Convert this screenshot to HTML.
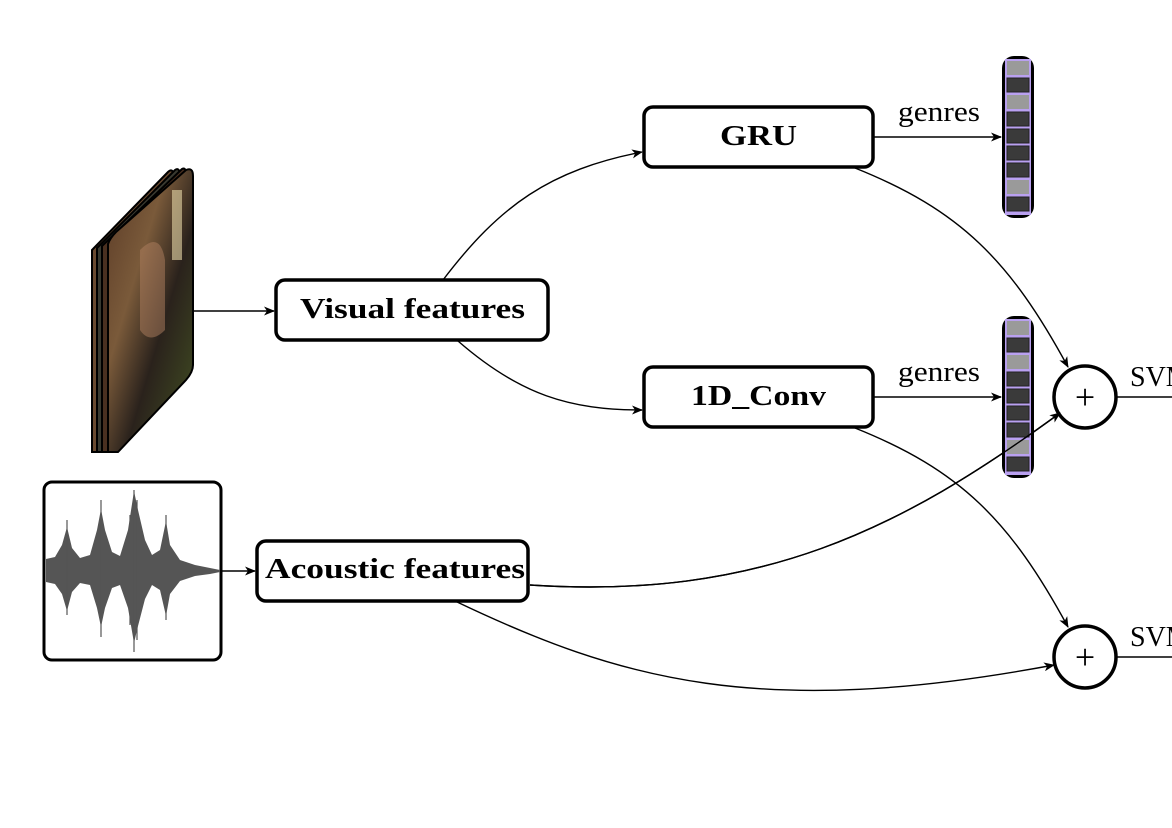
<!DOCTYPE html>
<html><head><meta charset="utf-8"><style>
html,body{margin:0;padding:0;background:#fff}
svg{display:block}
text{font-family:"Liberation Serif",serif}
</style></head><body>
<svg width="1172" height="828" viewBox="0 0 1172 828" xmlns="http://www.w3.org/2000/svg">
<defs>
<marker id="a" markerWidth="11" markerHeight="9" refX="10" refY="4.5" orient="auto" markerUnits="userSpaceOnUse">
<path d="M0,0 L11,4.5 L0,9 L3,4.5 Z" fill="#000"/></marker>
<linearGradient id="img" x1="0" y1="0" x2="1" y2="1">
<stop offset="0" stop-color="#5a3a26"/><stop offset="0.35" stop-color="#7a5a3a"/><stop offset="0.6" stop-color="#2a221c"/><stop offset="0.85" stop-color="#3a4020"/><stop offset="1" stop-color="#1a1410"/></linearGradient>
</defs>
<!-- frame stack -->
<g stroke="#000" stroke-width="2">
<path d="M92,250 L168,172 Q172,168 174,174 L174,372 L100,452 L92,452 Z" fill="#6a4a30"/>
<path d="M97,248 L175,170 Q179,167 180,174 L180,374 L104,452 L97,452 Z" fill="#3a3a30"/>
<path d="M102,246 L182,169 Q186,167 186,174 L186,376 L108,452 L102,452 Z" fill="#4a3020"/>
<path d="M108,244 Q110,238 116,232 L186,170 Q193,167 193,176 L193,365 Q193,372 186,380 L118,452 L108,452 Z" fill="url(#img)"/>
</g>
<path d="M140,250 Q160,230 165,260 L165,330 Q150,345 140,330 Z" fill="#b08060" opacity="0.5"/>
<rect x="172" y="190" width="10" height="70" fill="#e8d8a8" opacity="0.6"/>
<!-- waveform frame -->
<rect x="44" y="482" width="177" height="178" rx="8" fill="#fff" stroke="#000" stroke-width="3"/>
<polygon fill="#555" points="46,559 55,557 62,545 67,527 72,548 80,558 90,555 97,530 101,509 105,530 112,552 120,556 128,530 134,491 138,510 145,540 152,555 160,550 166,521 170,545 180,560 195,565 210,568 220,570 220,572 210,574 195,576 180,581 170,594 166,616 160,590 152,585 145,599 138,626 134,643 128,608 120,585 112,588 105,608 101,627 97,608 90,585 80,583 72,592 67,611 62,594 55,584 46,582"/>
<g stroke="#555" stroke-width="1.2">
<line x1="101" y1="500" x2="101" y2="637"/><line x1="134" y1="490" x2="134" y2="652"/><line x1="137" y1="500" x2="137" y2="640"/>
<line x1="67" y1="520" x2="67" y2="615"/><line x1="166" y1="515" x2="166" y2="620"/><line x1="130" y1="515" x2="130" y2="625"/>
</g>
<!-- boxes -->
<g fill="#fff" stroke="#000" stroke-width="3.5">
<rect x="644" y="107" width="229" height="60" rx="9"/>
<rect x="276" y="280" width="272" height="60" rx="9"/>
<rect x="644" y="367" width="229" height="60" rx="9"/>
<rect x="257" y="541" width="271" height="60" rx="9"/>
<circle cx="1085" cy="397" r="31"/>
<circle cx="1085" cy="657" r="31"/>
</g>
<g font-weight="bold" font-size="28">
<text x="720" y="145" textLength="77" lengthAdjust="spacingAndGlyphs">GRU</text>
<text x="300" y="318" textLength="225" lengthAdjust="spacingAndGlyphs">Visual features</text>
<text x="691" y="405" textLength="135" lengthAdjust="spacingAndGlyphs">1D_Conv</text>
<text x="265" y="578" textLength="260" lengthAdjust="spacingAndGlyphs">Acoustic features</text>
</g>
<g font-size="36" text-anchor="middle"><text x="1085" y="409">+</text><text x="1085" y="669">+</text></g>
<g font-size="28"><text x="898" y="121" textLength="82" lengthAdjust="spacingAndGlyphs">genres</text><text x="898" y="381" textLength="82" lengthAdjust="spacingAndGlyphs">genres</text>
<text x="1130" y="386">SVM</text><text x="1130" y="646">SVM</text></g>
<!-- connectors -->
<g fill="none" stroke="#000" stroke-width="1.4" marker-end="url(#a)">
<path d="M193,311 L274,311"/>
<path d="M221,571 L255,571"/>
<path d="M443,280 C500,205 550,170 642,152"/>
<path d="M458,341 C520,395 570,410 642,410"/>
<path d="M873,137 L1001,137"/>
<path d="M873,397 L1001,397"/>
<path d="M855,168 C960,210 1010,260 1068,367"/>
<path d="M530,585 C760,600 900,530 1060,413"/>
<path d="M855,428 C960,470 1010,520 1068,627"/>
<path d="M455,601 C620,680 760,720 1054,665"/>
</g>
<g stroke="#000" stroke-width="1.4"><line x1="1116" y1="397" x2="1172" y2="397"/><line x1="1116" y1="657" x2="1172" y2="657"/></g>
<!-- vectors -->
<g>
<rect x="1002" y="56" width="32" height="162" rx="12" fill="#000"/>
<rect x="1005" y="59" width="26" height="156" fill="#b9a0f0"/>
<g stroke="#222">
<rect x="1007" y="61" width="22" height="14" fill="#9a9a9a" stroke="none"/>
<rect x="1007" y="78" width="22" height="14" fill="#3a3a3a"/>
<rect x="1007" y="95" width="22" height="14" fill="#9a9a9a" stroke="none"/>
<rect x="1007" y="112" width="22" height="14" fill="#3a3a3a"/>
<rect x="1007" y="129" width="22" height="14" fill="#3a3a3a"/>
<rect x="1007" y="146" width="22" height="14" fill="#3a3a3a"/>
<rect x="1007" y="163" width="22" height="14" fill="#3a3a3a"/>
<rect x="1007" y="180" width="22" height="14" fill="#9a9a9a" stroke="none"/>
<rect x="1007" y="197" width="22" height="14" fill="#3a3a3a"/>
</g>
<rect x="1002" y="316" width="32" height="162" rx="12" fill="#000"/>
<rect x="1005" y="319" width="26" height="156" fill="#b9a0f0"/>
<g stroke="#222">
<rect x="1007" y="321" width="22" height="14" fill="#9a9a9a" stroke="none"/>
<rect x="1007" y="338" width="22" height="14" fill="#3a3a3a"/>
<rect x="1007" y="355" width="22" height="14" fill="#9a9a9a" stroke="none"/>
<rect x="1007" y="372" width="22" height="14" fill="#3a3a3a"/>
<rect x="1007" y="389" width="22" height="14" fill="#3a3a3a"/>
<rect x="1007" y="406" width="22" height="14" fill="#3a3a3a"/>
<rect x="1007" y="423" width="22" height="14" fill="#3a3a3a"/>
<rect x="1007" y="440" width="22" height="14" fill="#9a9a9a" stroke="none"/>
<rect x="1007" y="457" width="22" height="14" fill="#3a3a3a"/>
</g>
</g>
<path d="M530,585 C760,600 900,530 1060,413" fill="none" stroke="#000" stroke-width="1.4"/>
</svg>
</body></html>
